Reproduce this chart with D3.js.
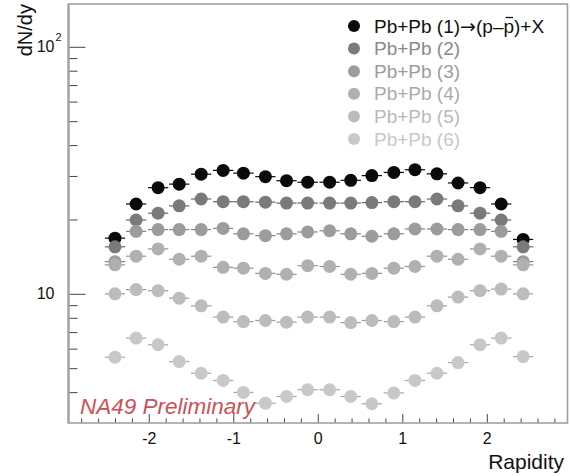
<!DOCTYPE html>
<html>
<head>
<meta charset="utf-8">
<script src="https://cdn.jsdelivr.net/npm/d3@7"></script>
<style>
  body { margin: 0; background: #fff; }
  text { font-family: "Liberation Sans", Arial, sans-serif; }
</style>
</head>
<body>
<svg id="chart"></svg>
<script>
const W = 570, H = 476;

// rapidity bin centres
const rapidity = [-2.40, -2.15, -1.89, -1.64, -1.38, -1.12, -0.88, -0.62, -0.37, -0.12,
                   0.14,  0.39,  0.64,  0.90,  1.15,  1.41,  1.66,  1.92,  2.17,  2.43];

// dN/dy per centrality class
const pb1 = [16.8, 23.1, 26.9, 27.8, 30.5, 31.6, 30.8, 29.8, 28.7, 28.3,
             28.3, 28.8, 30.1, 31.0, 31.8, 30.6, 28.1, 26.9, 23.1, 16.6];
const pb2 = [15.5, 19.9, 21.2, 22.7, 24.2, 23.6, 23.6, 23.5, 23.3, 23.3,
             23.3, 23.3, 23.4, 23.6, 23.6, 24.2, 22.7, 21.2, 19.9, 15.5];
const pb3 = [13.5, 17.9, 18.2, 18.2, 18.2, 18.4, 17.5, 17.2, 17.5, 17.8,
             18.0, 17.5, 17.1, 17.5, 18.3, 18.3, 18.2, 18.2, 17.9, 13.5];
const pb4 = [13.1, 14.2, 15.2, 13.8, 14.2, 12.8, 12.7, 12.1, 12.0, 13.0,
             12.9, 12.0, 12.1, 12.7, 12.9, 14.2, 13.8, 15.2, 14.2, 13.1];
const pb5 = [10.0, 10.4, 10.3, 9.6, 8.94, 8.05, 7.72, 7.80, 7.68, 8.05,
             8.05, 7.65, 7.80, 7.72, 8.05, 8.94, 9.70, 10.3, 10.45, 10.0];
const pb6 = [5.54, 6.62, 6.22, 5.32, 4.77, 4.46, 3.99, 3.61, 3.84, 4.09,
             4.09, 3.84, 3.59, 3.97, 4.46, 4.77, 5.27, 6.22, 6.62, 5.57];

const labels = ['Pb+Pb (1)', 'Pb+Pb (2)', 'Pb+Pb (3)', 'Pb+Pb (4)', 'Pb+Pb (5)', 'Pb+Pb (6)'];
const colors = ['#0a0a0a', '#7a7a7a', '#9c9c9c', '#b0b0b0', '#bcbcbc', '#c8c8c8'];
const textColors = ['#111', '#8a8a8a', '#9c9c9c', '#ababab', '#bababa', '#c8c8c8'];

const xMajor = [-2, -1, 0, 1, 2];
const yMajor = [10, 100];
const yMinor = [4, 5, 6, 7, 8, 9, 20, 30, 40, 50, 60, 70, 80, 90];

const series = [pb1, pb2, pb3, pb4, pb5, pb6];

const L = 68.5, R = 567.5, T = 4, B = 423;
const x = d3.scaleLinear().domain([-2.95, 2.955]).range([L, R]);
const y = d3.scaleLog().domain([3, 149]).range([B, T]);

const svg = d3.select('#chart').attr('width', W).attr('height', H);

// x axis ticks (inward)
const xMinor = d3.range(-2.8, 2.81, 0.2).filter(v => Math.abs(v - Math.round(v)) > 0.01);
svg.append('g').attr('transform', `translate(0,${B})`)
  .call(d3.axisBottom(x).tickValues(xMinor).tickSize(-4.5).tickFormat(''))
  .call(g => g.select('.domain').remove());
svg.append('g').attr('transform', `translate(0,${B})`)
  .call(d3.axisBottom(x).tickValues(xMajor).tickSize(-9).tickPadding(10).tickFormat(d => String(d)))
  .call(g => g.select('.domain').remove())
  .call(g => g.selectAll('text').attr('font-size', 16).attr('fill', '#111')
    .attr('font-family', '"Liberation Sans", Arial, sans-serif'));

// y axis ticks (inward)
svg.append('g').attr('transform', `translate(${L},0)`)
  .call(d3.axisLeft(y).tickValues(yMinor).tickSize(-9).tickFormat(''))
  .call(g => g.select('.domain').remove());
const yg = svg.append('g').attr('transform', `translate(${L},0)`)
  .call(d3.axisLeft(y).tickValues(yMajor).tickSize(-17).tickPadding(14).tickFormat(() => '10'))
  .call(g => g.select('.domain').remove());
yg.selectAll('text').attr('font-size', 16).attr('fill', '#111')
  .attr('font-family', '"Liberation Sans", Arial, sans-serif');
yg.selectAll('.tick').filter(d => d === 100).append('text')
  .attr('x', -13).attr('y', -6).attr('font-size', 11).attr('fill', '#111')
  .attr('text-anchor', 'start').text('2');
svg.selectAll('.tick line').attr('stroke', '#444');

// frame
svg.append('rect').attr('x', L).attr('y', T).attr('width', R - L).attr('height', B - T)
  .attr('fill', 'none').attr('stroke', '#a0a0a0').attr('stroke-width', 1.6);
svg.append('line').attr('x1', L).attr('x2', L).attr('y1', T).attr('y2', B)
  .attr('stroke', '#a0a0a0').attr('stroke-width', 2.2);

// data
const plot = svg.append('g');
series.forEach((vals, i) => {
  const g = plot.append('g');
  const pts = rapidity.map((r, k) => ({r, v: vals[k]}));
  g.selectAll('line').data(pts).join('line')
    .attr('x1', d => x(d.r - 0.12)).attr('x2', d => x(d.r + 0.12))
    .attr('y1', d => y(d.v)).attr('y2', d => y(d.v))
    .attr('stroke', d3.color(colors[i]).darker(0.5)).attr('stroke-width', 1.2);
  g.selectAll('circle').data(pts).join('circle')
    .attr('cx', d => x(d.r)).attr('cy', d => y(d.v)).attr('r', 6.5)
    .attr('fill', colors[i]);
});

// preliminary tag
svg.append('text').attr('x', 80).attr('y', 414).attr('font-size', 22.5)
  .attr('font-style', 'italic').attr('fill', '#cc5058').text('NA49 Preliminary');

// legend
const leg = svg.append('g');
const LFS = 19;
labels.forEach((t, i) => {
  const ly = 26 + i * 22.6;
  leg.append('circle').attr('cx', 354).attr('cy', ly).attr('r', 6).attr('fill', colors[i]);
  const tx = leg.append('text').attr('x', 374).attr('y', ly).attr('dy', '0.35em')
    .attr('font-size', LFS).attr('fill', textColors[i]);
  tx.append('tspan').text(t);
  if (i === 0) {
    tx.append('tspan').attr('font-family', '"DejaVu Sans", sans-serif').text('\u2192');
    tx.append('tspan').text('(p\u2013');
    tx.append('tspan').text('p');
    tx.append('tspan').text(')+X');
    const idx = t.length + 1 + 3;          // position of the anti-proton "p"
    const ext = tx.node().getExtentOfChar(idx);
    leg.append('line')
      .attr('x1', ext.x + 2).attr('x2', ext.x + ext.width - 1)
      .attr('y1', ly - 8.5).attr('y2', ly - 8.5)
      .attr('stroke', textColors[0]).attr('stroke-width', 1.3);
  }
});

// axis titles
svg.append('text').attr('transform', 'translate(32,4) rotate(-90)')
  .attr('text-anchor', 'end').attr('font-size', 20).attr('fill', '#111').text('dN/dy');
svg.append('text').attr('x', 564).attr('y', 469).attr('text-anchor', 'end')
  .attr('font-size', 21).attr('fill', '#111').text('Rapidity');
</script>
</body>
</html>
